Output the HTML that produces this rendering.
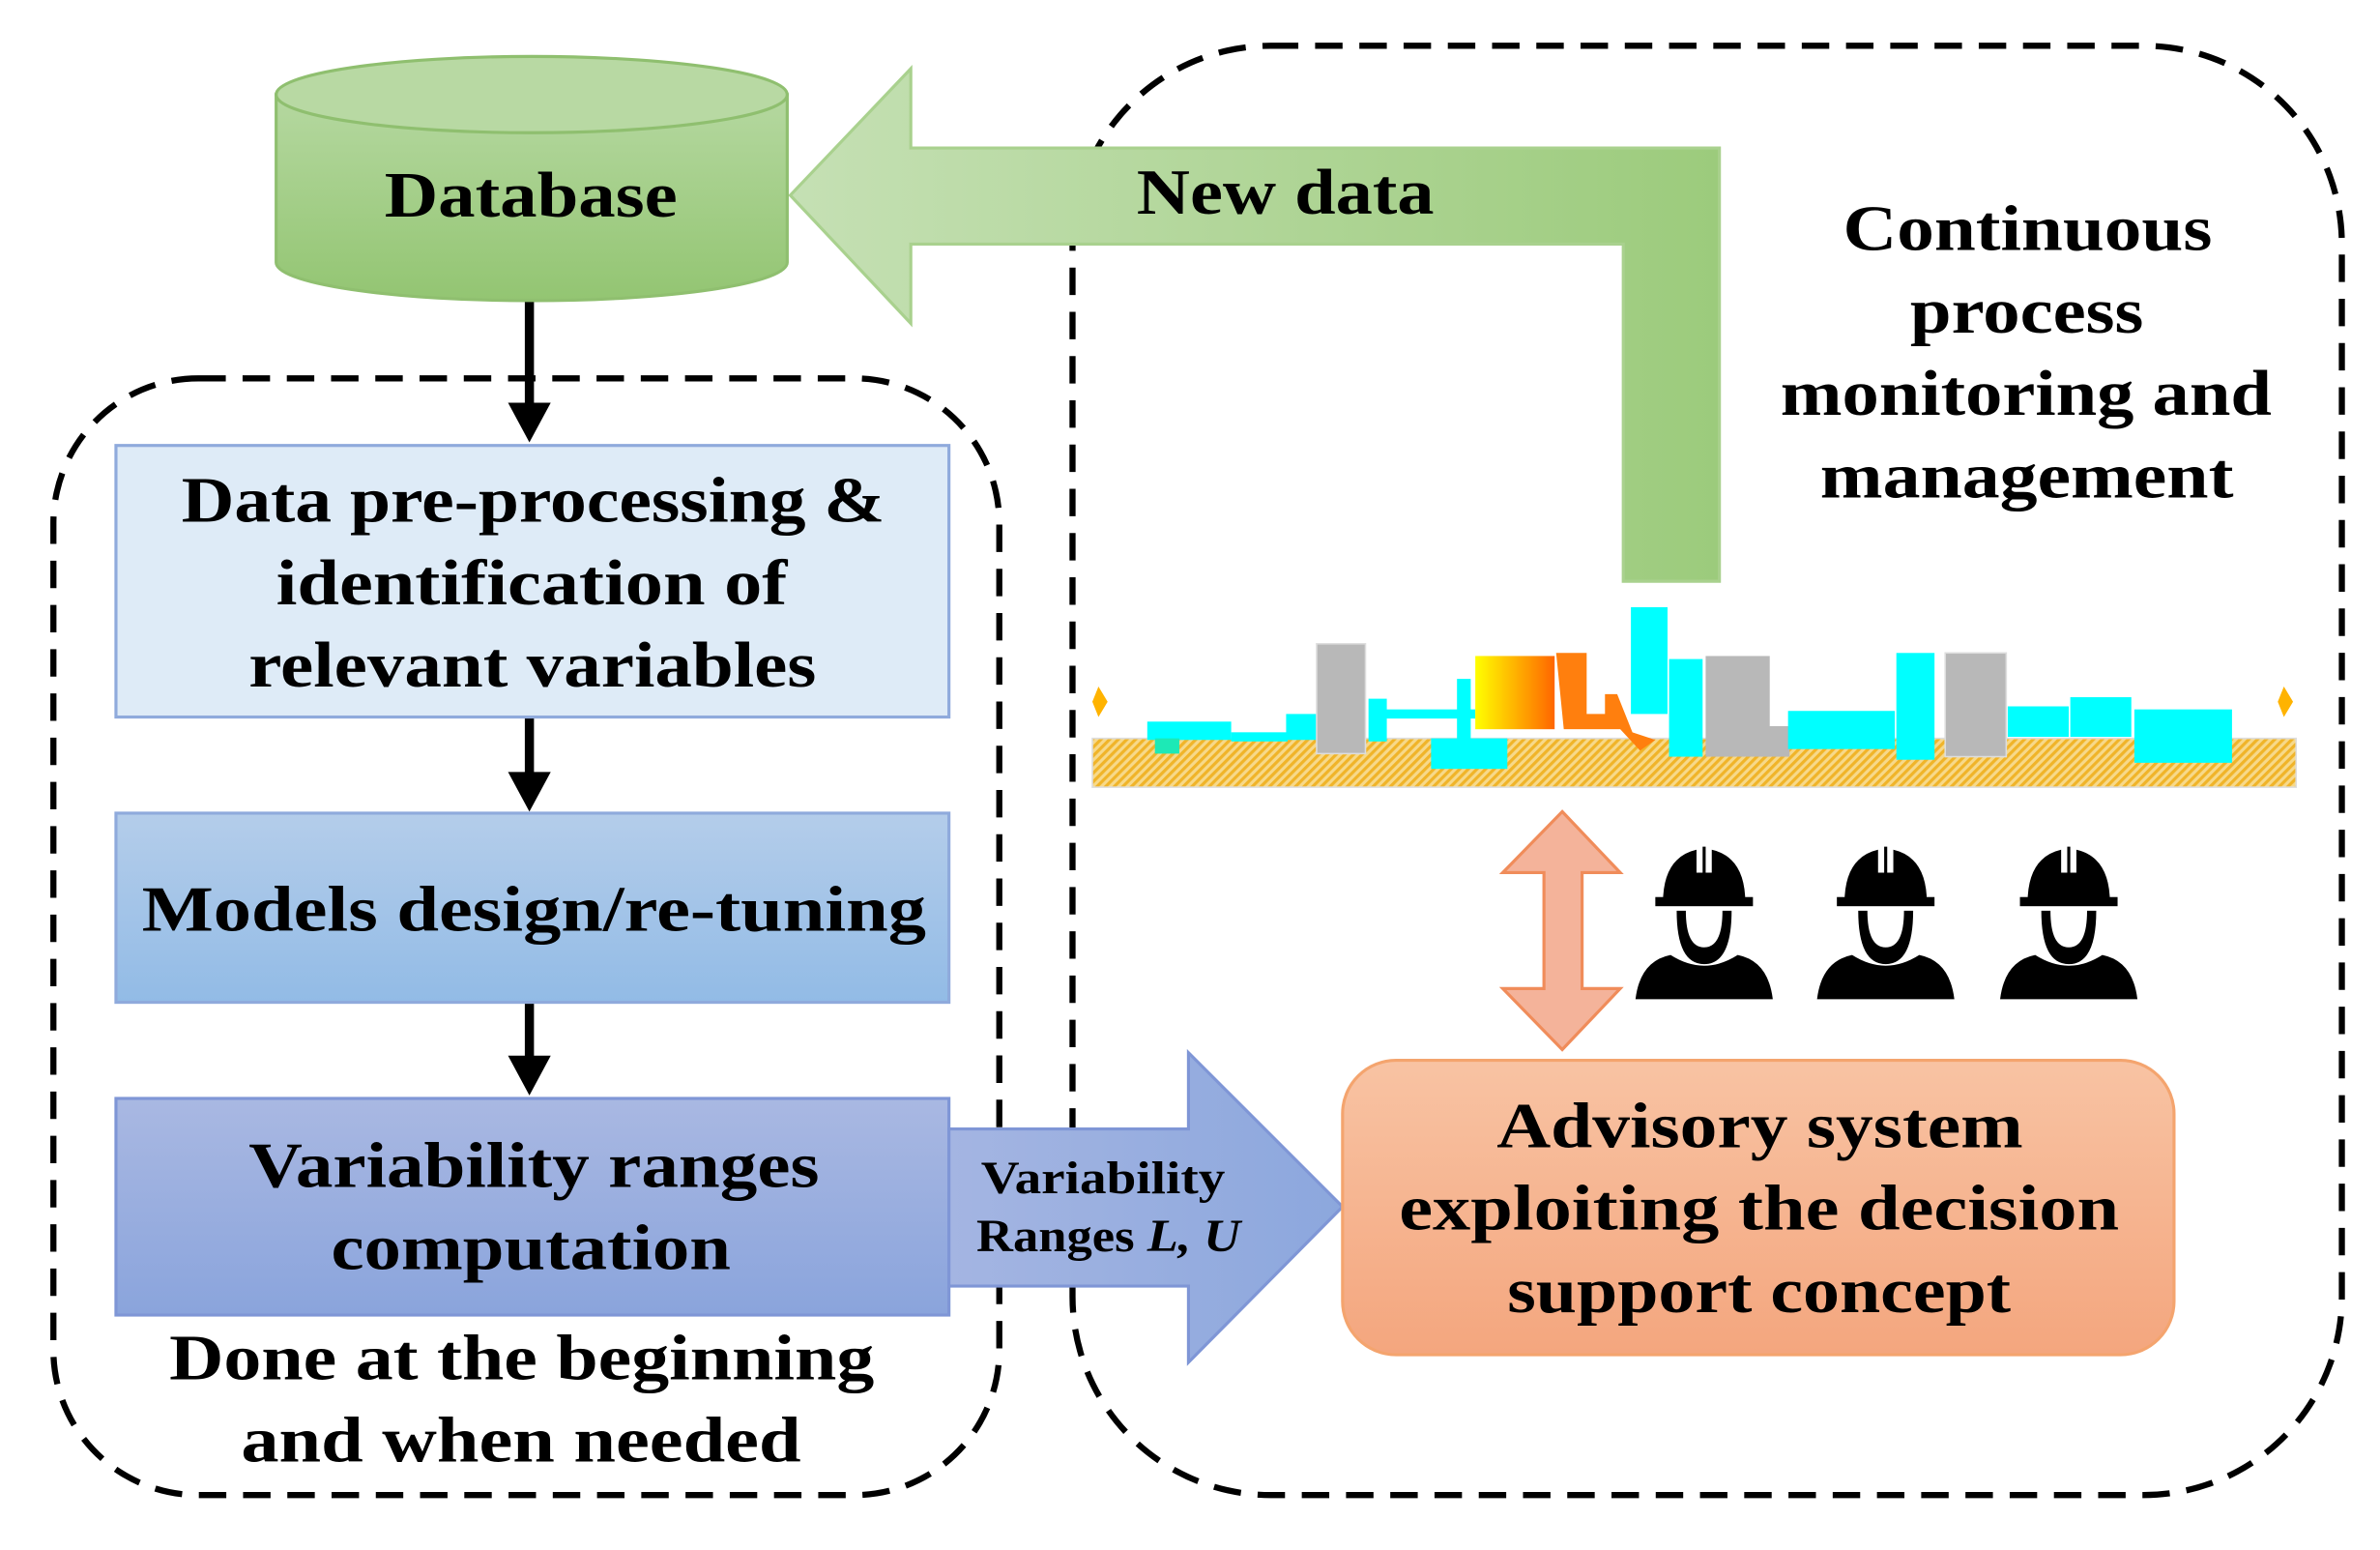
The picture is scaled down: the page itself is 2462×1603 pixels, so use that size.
<!DOCTYPE html>
<html><head><meta charset="utf-8"><style>
html,body{margin:0;padding:0;background:#fff}
svg{display:block}
text{font-family:"Liberation Serif",serif;font-weight:bold;fill:#000}
</style></head><body>
<svg width="2462" height="1603" viewBox="0 0 1560 1016" preserveAspectRatio="none" xmlns="http://www.w3.org/2000/svg">
<defs>
<linearGradient id="gg" x1="0" x2="1" y1="0" y2="0"><stop offset="0" stop-color="#c5e0b4"/><stop offset="1" stop-color="#9ccb7c"/></linearGradient>
<linearGradient id="db" x1="0" x2="0" y1="0" y2="1"><stop offset="0" stop-color="#b5d8a0"/><stop offset="1" stop-color="#93c572"/></linearGradient>
<linearGradient id="b2" x1="0" x2="0" y1="0" y2="1"><stop offset="0" stop-color="#b4cdea"/><stop offset="1" stop-color="#92bbe6"/></linearGradient>
<linearGradient id="b3" x1="0" x2="0" y1="0" y2="1"><stop offset="0" stop-color="#a9b8e2"/><stop offset="1" stop-color="#8aa4dc"/></linearGradient>
<linearGradient id="ba" x1="0" x2="1" y1="0" y2="0"><stop offset="0" stop-color="#a4b5e2"/><stop offset="1" stop-color="#8ca7dd"/></linearGradient>
<linearGradient id="ad" x1="0" x2="0" y1="0" y2="1"><stop offset="0" stop-color="#f8c3a3"/><stop offset="1" stop-color="#f4a67e"/></linearGradient>
<linearGradient id="fire" x1="0" x2="1"><stop offset="0" stop-color="#ffff00"/><stop offset="1" stop-color="#ff6600"/></linearGradient>
<pattern id="hatch" width="4" height="4" patternUnits="userSpaceOnUse" patternTransform="rotate(45)"><rect width="4" height="4" fill="#f7d98a"/><rect width="2" height="4" fill="#f0b429"/></pattern>
</defs>

<rect x="35" y="248" width="620" height="732" rx="95" ry="95" fill="none" stroke="#000" stroke-width="4" stroke-dasharray="18,11"/>
<rect x="703" y="30" width="832" height="950" rx="130" ry="130" fill="none" stroke="#000" stroke-width="4" stroke-dasharray="18,11"/>

<path d="M518,128 L597,45 L597,97 L1127,97 L1127,381 L1064,381 L1064,160 L597,160 L597,212 Z" fill="url(#gg)" stroke="#a9d18e" stroke-width="2"/>
<text x="745" y="140" font-size="42" textLength="195" lengthAdjust="spacingAndGlyphs">New data</text>

<path d="M181,62 L181,172 A167,25 0 0 0 516,172 L516,62 Z" fill="url(#db)" stroke="#8fbf6f" stroke-width="2"/>
<ellipse cx="348.5" cy="62" rx="167.5" ry="25" fill="#b8d9a3" stroke="#8fbf6f" stroke-width="2"/>
<text x="252" y="142" font-size="42" textLength="192" lengthAdjust="spacingAndGlyphs">Database</text>

<g stroke="#000" stroke-width="6"><line x1="347" y1="198" x2="347" y2="268"/><line x1="347" y1="470" x2="347" y2="510"/><line x1="347" y1="657" x2="347" y2="696"/></g>
<g fill="#000"><path d="M333,264 L361,264 L347,290 Z"/><path d="M333,506 L361,506 L347,532 Z"/><path d="M333,692 L361,692 L347,718 Z"/></g>

<rect x="76" y="292" width="546" height="178" fill="#deebf7" stroke="#8faadc" stroke-width="2"/>
<text x="119" y="342" font-size="42" textLength="461" lengthAdjust="spacingAndGlyphs">Data pre-processing &amp;</text>
<text x="181" y="396" font-size="42" textLength="335" lengthAdjust="spacingAndGlyphs">identification of</text>
<text x="163" y="450" font-size="42" textLength="372" lengthAdjust="spacingAndGlyphs">relevant variables</text>
<rect x="76" y="533" width="546" height="124" fill="url(#b2)" stroke="#8faadc" stroke-width="2"/>
<text x="93" y="610" font-size="42" textLength="514" lengthAdjust="spacingAndGlyphs">Models design/re-tuning</text>
<rect x="76" y="720" width="546" height="142" fill="url(#b3)" stroke="#7f96d6" stroke-width="2"/>
<text x="163" y="778" font-size="42" textLength="374" lengthAdjust="spacingAndGlyphs">Variability ranges</text>
<text x="217" y="832" font-size="42" textLength="262" lengthAdjust="spacingAndGlyphs">computation</text>
<text x="111" y="904" font-size="42" textLength="462" lengthAdjust="spacingAndGlyphs">Done at the beginning</text>
<text x="158" y="958" font-size="42" textLength="367" lengthAdjust="spacingAndGlyphs">and when needed</text>

<path d="M622,740 L779,740 L779,690 L880,791 L779,893 L779,843 L622,843 Z" fill="url(#ba)" stroke="#7f96d6" stroke-width="2"/>
<text x="643" y="782" font-size="30" textLength="160" lengthAdjust="spacingAndGlyphs">Variability</text>
<text x="640" y="820" font-size="30" textLength="173" lengthAdjust="spacingAndGlyphs">Ranges <tspan font-style="italic">L, U</tspan></text>

<text x="1208" y="164" font-size="42" textLength="242" lengthAdjust="spacingAndGlyphs">Continuous</text>
<text x="1252" y="218" font-size="42" textLength="153" lengthAdjust="spacingAndGlyphs">process</text>
<text x="1167" y="272" font-size="42" textLength="322" lengthAdjust="spacingAndGlyphs">monitoring and</text>
<text x="1193" y="326" font-size="42" textLength="271" lengthAdjust="spacingAndGlyphs">management</text>

<g>
<rect x="716" y="484" width="789" height="32" fill="url(#hatch)" stroke="#ddd" stroke-width="1"/>
<path d="M720,450 L726,460 L720,470 L716,460 Z" fill="#ffb300"/>
<path d="M1497,450 L1503,460 L1497,470 L1493,460 Z" fill="#ffb300"/>
<rect x="752" y="473" width="55" height="12" fill="#00ffff"/>
<rect x="757" y="484" width="16" height="10" fill="#1de9b6"/>
<rect x="807" y="480" width="37" height="6" fill="#00ffff"/>
<rect x="843" y="468" width="22" height="17" fill="#00ffff"/>
<rect x="863" y="422" width="32" height="72" fill="#b8b8b8" stroke="#ddd"/>
<rect x="897" y="458" width="12" height="28" fill="#00ffff"/>
<rect x="905" y="465" width="62" height="6" fill="#00ffff"/>
<rect x="955" y="445" width="9" height="50" fill="#00ffff"/>
<rect x="938" y="484" width="50" height="20" fill="#00ffff"/>
<rect x="967" y="430" width="52" height="48" fill="url(#fire)"/>
<path d="M1020,428 L1040,428 L1040,468 L1052,468 L1052,455 L1060,455 L1070,480 L1085,485 L1075,492 L1062,478 L1025,478 Z" fill="#ff7f0e"/>
<rect x="1069" y="398" width="24" height="70" fill="#00ffff"/>
<rect x="1094" y="432" width="22" height="64" fill="#00ffff"/>
<rect x="1118" y="430" width="42" height="66" fill="#b8b8b8"/>
<rect x="1158" y="476" width="15" height="20" fill="#b8b8b8"/>
<rect x="1172" y="466" width="70" height="25" fill="#00ffff"/>
<rect x="1243" y="428" width="25" height="70" fill="#00ffff"/>
<rect x="1275" y="428" width="40" height="68" fill="#b8b8b8" stroke="#ddd"/>
<rect x="1316" y="463" width="40" height="20" fill="#00ffff"/>
<rect x="1357" y="457" width="40" height="26" fill="#00ffff"/>
<rect x="1399" y="465" width="64" height="35" fill="#00ffff"/>
</g>

<path d="M1024,532 L1062,572 L1037,572 L1037,648 L1062,648 L1024,688 L985,648 L1012,648 L1012,572 L985,572 Z" fill="#f4b39a" stroke="#f08c5a" stroke-width="2"/>

<g id="w" fill="#000">
<path d="M1090,592 Q1090,562 1112,557 L1112,572 L1116,572 L1116,555 L1118,555 L1118,572 L1122,572 L1122,557 Q1144,562 1144,592 Z"/>
<rect x="1085" y="588" width="64" height="6"/>
<path d="M1099,597 L1105,597 Q1105,621 1117,621 Q1129,621 1129,597 L1135,597 Q1135,632 1117,632 Q1099,632 1099,597 Z"/>
<path d="M1072,655 Q1075,630 1095,626 Q1117,640 1139,626 Q1159,630 1162,655 Z"/>
</g>
<use href="#w" x="119"/>
<use href="#w" x="239"/>

<rect x="880" y="695" width="545" height="193" rx="35" ry="35" fill="url(#ad)" stroke="#f4a46e" stroke-width="2"/>
<text x="981" y="752" font-size="42" textLength="345" lengthAdjust="spacingAndGlyphs">Advisory system</text>
<text x="917" y="806" font-size="42" textLength="472" lengthAdjust="spacingAndGlyphs">exploiting the decision</text>
<text x="988" y="860" font-size="42" textLength="330" lengthAdjust="spacingAndGlyphs">support concept</text>
</svg>
</body></html>
